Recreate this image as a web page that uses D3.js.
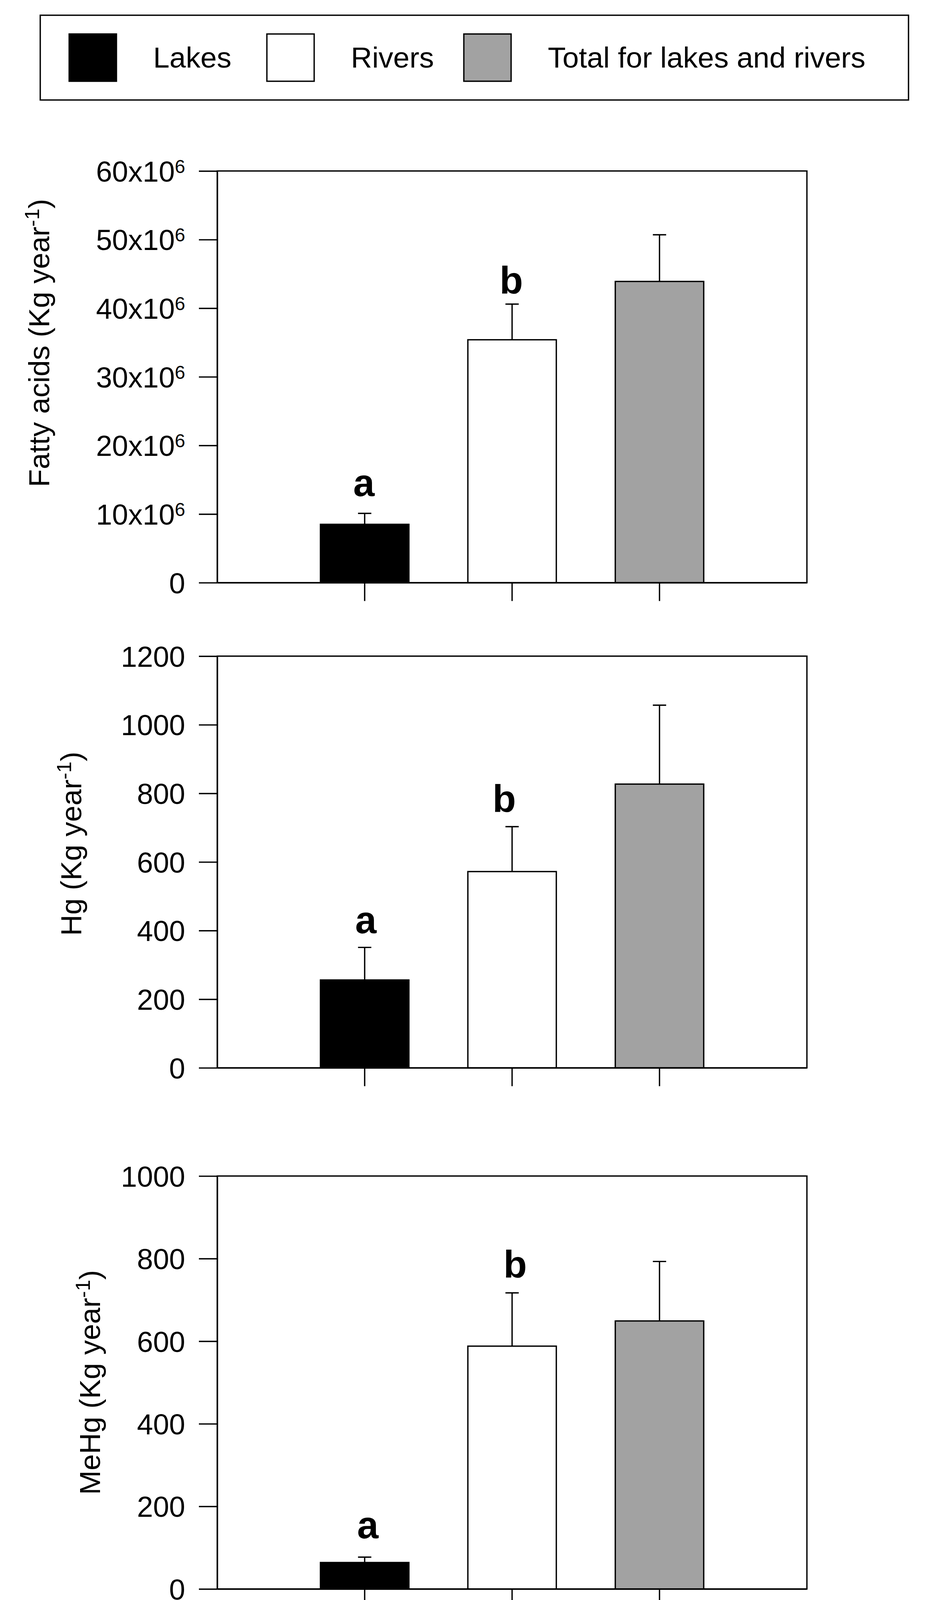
<!DOCTYPE html>
<html>
<head>
<meta charset="utf-8">
<script src="https://cdn.jsdelivr.net/npm/d3@7"></script>
<style>
  html, body { margin: 0; padding: 0; background: #ffffff; }
  svg { display: block; }
  text { font-family: "Liberation Sans", Arial, Helvetica, sans-serif; fill: #000; }
</style>
</head>
<body>
<svg id="chart" width="2380" height="4759"></svg>
<script>
// ---------------- data ----------------
const categories = ["Lentic", "Lotic", "Lentic + Lotic"];
const legendLabels = ["Lakes", "Rivers", "Total for lakes and rivers"];
const fillColors = ["#000000", "#ffffff", "#a2a2a2"];

const fattyAcidsMean = [8.5e6, 35.4e6, 43.9e6];
const fattyAcidsErr  = [1.6e6, 5.2e6, 6.8e6];
const fattyAcidsTicks = [0, 10e6, 20e6, 30e6, 40e6, 50e6, 60e6];
const fattyAcidsLetters = ["a", "b", ""];

const hgMean = [256, 572, 827];
const hgErr  = [95, 131, 230];
const hgTicks = [0, 200, 400, 600, 800, 1000, 1200];
const hgLetters = ["a", "b", ""];

const meHgMean = [64, 588, 649];
const meHgErr  = [13, 129, 144];
const meHgTicks = [0, 200, 400, 600, 800, 1000];
const meHgLetters = ["a", "b", ""];

const xAxisTitle = "Ecosystem";

// ---------------- layout ----------------
const FONT = 75;
const SW = 3.4;
const plotLeft = 556, plotRight = 2065;
const tickLen = 47;

const panels = [
  { name: "Fatty acids", mean: fattyAcidsMean, err: fattyAcidsErr, ticks: fattyAcidsTicks,
    letters: fattyAcidsLetters, sci: true,
    top: 437.7, bottom: 1491.6, titleX: 126, titleCY: 878,
    letterGap: [44, 27, 0], letterDx: [-2, -2, 0], showX: false },
  { name: "Hg", mean: hgMean, err: hgErr, ticks: hgTicks,
    letters: hgLetters, sci: false,
    top: 1679.7, bottom: 2733.6, titleX: 208, titleCY: 2160,
    letterGap: [36, 38, 0], letterDx: [3, -20, 0], showX: false },
  { name: "MeHg", mean: meHgMean, err: meHgErr, ticks: meHgTicks,
    letters: meHgLetters, sci: false,
    top: 3010.6, bottom: 4067.7, titleX: 256, titleCY: 3539,
    letterGap: [48, 40, 0], letterDx: [8, 8, 0], showX: true }
];

const svg = d3.select("#chart");

// ---------------- legend ----------------
const legend = svg.append("g").attr("class", "legend");
legend.append("rect")
  .attr("x", 103).attr("y", 39).attr("width", 2222).attr("height", 217)
  .attr("fill", "none").attr("stroke", "#000").attr("stroke-width", SW);
const swatchX = [177, 683, 1187];
const swatchSize = 121;
legendLabels.forEach((lab, i) => {
  legend.append("rect")
    .attr("x", swatchX[i]).attr("y", 87).attr("width", swatchSize).attr("height", swatchSize)
    .attr("fill", fillColors[i]).attr("stroke", "#000").attr("stroke-width", SW);
  legend.append("text")
    .attr("x", swatchX[i] + 215).attr("y", 173)
    .attr("font-size", FONT)
    .text(lab);
});

// ---------------- x scale ----------------
const x = d3.scaleBand()
  .domain(categories)
  .range([plotLeft, plotRight])
  .paddingInner(0.4)
  .paddingOuter(0.7);

// ---------------- panels ----------------
panels.forEach(p => {
  const g = svg.append("g");
  const maxTick = p.ticks[p.ticks.length - 1];
  const y = d3.scaleLinear().domain([0, maxTick]).range([p.bottom, p.top]);

  const rows = categories.map((c, i) => ({
    cat: c, mean: p.mean[i], err: p.err[i], fill: fillColors[i],
    letter: p.letters[i], gap: p.letterGap[i], dx: p.letterDx[i]
  }));

  // bars
  g.selectAll("rect.bar").data(rows).join("rect")
    .attr("class", "bar")
    .attr("x", d => x(d.cat))
    .attr("width", x.bandwidth())
    .attr("y", d => y(d.mean))
    .attr("height", d => y(0) - y(d.mean))
    .attr("fill", d => d.fill)
    .attr("stroke", "#000")
    .attr("stroke-width", SW);

  // error bars (upper only)
  const cx = d => x(d.cat) + x.bandwidth() / 2;
  g.selectAll("line.err").data(rows).join("line")
    .attr("class", "err")
    .attr("x1", cx).attr("x2", cx)
    .attr("y1", d => y(d.mean)).attr("y2", d => y(d.mean + d.err))
    .attr("stroke", "#000").attr("stroke-width", SW);
  g.selectAll("line.cap").data(rows).join("line")
    .attr("class", "cap")
    .attr("x1", d => cx(d) - 17).attr("x2", d => cx(d) + 17)
    .attr("y1", d => y(d.mean + d.err)).attr("y2", d => y(d.mean + d.err))
    .attr("stroke", "#000").attr("stroke-width", SW);

  // significance letters
  g.selectAll("text.sig").data(rows.filter(d => d.letter)).join("text")
    .attr("class", "sig")
    .attr("x", d => cx(d) + d.dx)
    .attr("y", d => y(d.mean + d.err) - d.gap)
    .attr("text-anchor", "middle")
    .attr("font-size", 98)
    .attr("font-weight", "bold")
    .text(d => d.letter);

  // frame
  g.append("rect")
    .attr("x", plotLeft).attr("y", p.top)
    .attr("width", plotRight - plotLeft).attr("height", p.bottom - p.top)
    .attr("fill", "none").attr("stroke", "#000").attr("stroke-width", SW);

  // y axis
  const yAxis = d3.axisLeft(y)
    .tickValues(p.ticks)
    .tickSize(tickLen)
    .tickSizeOuter(0)
    .tickPadding(35)
    .tickFormat(d => p.sci ? (d === 0 ? "0" : (d / 1e6) + "x10") : String(d));
  const ya = g.append("g").attr("transform", `translate(${plotLeft},0)`).call(yAxis);
  ya.selectAll("path, line").attr("stroke", "#000").attr("stroke-width", SW);
  ya.selectAll("text")
    .attr("font-size", 74)
    .attr("font-family", "'Liberation Sans', Arial, sans-serif")
    .attr("fill", "#000")
    .attr("dy", "0.36em");
  if (p.sci) {
    ya.selectAll(".tick text").each(function(d) {
      if (d !== 0) {
        d3.select(this).append("tspan")
          .attr("font-size", 48)
          .attr("dy", -22)
          .text("6");
      }
    });
  }

  // x axis
  const xAxis = d3.axisBottom(x).tickSize(tickLen).tickSizeOuter(0);
  const xa = g.append("g").attr("transform", `translate(0,${p.bottom})`).call(xAxis);
  xa.selectAll("path, line").attr("stroke", "#000").attr("stroke-width", SW);
  if (p.showX) {
    xa.selectAll("text")
      .attr("font-size", FONT)
      .attr("font-family", "'Liberation Sans', Arial, sans-serif")
      .attr("fill", "#000")
      .attr("transform", "rotate(-90)")
      .attr("x", -(tickLen + 35))
      .attr("y", 0)
      .attr("dy", "0.36em")
      .style("text-anchor", "end");
  } else {
    xa.selectAll("text").remove();
  }

  // y axis title
  const t = g.append("text")
    .attr("transform", `translate(${p.titleX},${p.titleCY}) rotate(-90)`)
    .attr("text-anchor", "middle")
    .attr("font-size", FONT);
  t.append("tspan").text(p.name + " (Kg year");
  t.append("tspan").attr("font-size", 52).attr("dy", -26).text("-1");
  t.append("tspan").attr("dy", 26).text(")");
});

// x axis title
svg.append("text")
  .attr("x", (plotLeft + plotRight) / 2)
  .attr("y", 4703)
  .attr("text-anchor", "middle")
  .attr("font-size", FONT)
  .text(xAxisTitle);
</script>
</body>
</html>
